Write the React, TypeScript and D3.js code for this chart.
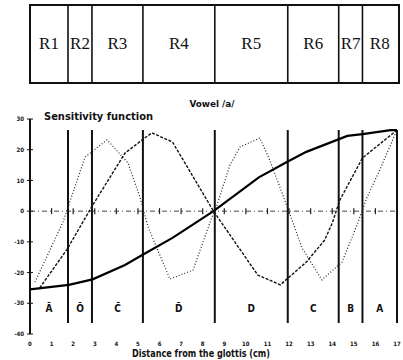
import React from 'react'
import * as d3 from 'd3'

// region boundaries along the tract (cm from the glottis)
const boundaries = [0, 1.76, 2.87, 5.23, 8.56, 11.94, 14.3, 15.4, 17]
const regionNames = ['R1', 'R2', 'R3', 'R4', 'R5', 'R6', 'R7', 'R8']
const modeLetters = ['A\u0304', 'O\u0304', 'C\u0304', 'D\u0304', 'D', 'C', 'B', 'A']

const xTicks = d3.range(0, 18)
const yTicks = [30, 20, 10, 0, -10, -20, -30, -40]

// sensitivity functions, [cm, value]
const solidCurve: [number, number][] = [
  [0, -25.5], [1.8, -24], [2.9, -22.2], [4.4, -17.5], [5.2, -14.3], [6.6, -8.7],
  [8.5, 0], [10.6, 11], [11.9, 16], [12.8, 19.3], [14.7, 24.5], [15.4, 25.1],
  [16.7, 26.4], [17, 26.4],
]
const dashedCurve: [number, number][] = [
  [0.45, -25], [1.7, -12.6], [2.9, 1.9], [4.4, 18.9], [5.2, 23.2], [5.65, 25.5],
  [6.6, 22.5], [8.5, 0], [10.55, -20.8], [11.6, -24], [11.9, -22.1], [12.8, -16.6],
  [13.65, -9.4], [14, -3.9], [14.35, 3.6], [15.4, 17.3], [17, 26.4],
]
const dottedCurve: [number, number][] = [
  [0.23, -23.1], [1.53, -3.5], [2.55, 17.6], [3.57, 23.2], [4.54, 15.7], [5.09, 4.6],
  [5.47, -5.2], [6.48, -22.1], [7.55, -19.2], [8.43, -1.9], [8.57, 0], [9.26, 15],
  [9.73, 20.9], [10.65, 23.8], [11.1, 16.7], [11.8, 3.6], [12.27, -5.5], [12.6, -12],
  [13.52, -22.4], [14.03, -19.2], [14.45, -16.6], [15.15, -4.5], [15.6, 4.3],
  [16.2, 13.4], [17, 26.4],
]

const W = 403
const H = 360
const condensed = '"DejaVu Sans Condensed", "DejaVu Sans", sans-serif'

export default function App() {
  const x = d3.scaleLinear().domain([0, 17]).range([30, 397])
  const y = d3.scaleLinear().domain([-40, 30]).range([334, 119])
  const path = d3.line<[number, number]>().x(d => x(d[0])).y(d => y(d[1]))

  const boxTop = 5
  const boxBottom = 83

  return (
    <svg width={W} height={H} style={{ position: 'absolute', left: 0, top: 0, background: '#fff' }}>
      {/* region boxes on top */}
      <rect x={x(0)} y={boxTop} width={x(17) - x(0) + 2} height={boxBottom - boxTop}
        fill="none" stroke="#111" strokeWidth={2} />
      {boundaries.slice(1, -1).map((b, i) => (
        <line key={i} x1={x(b)} x2={x(b)} y1={boxTop} y2={boxBottom} stroke="#111" strokeWidth={1.6} />
      ))}
      {regionNames.map((r, i) => (
        <text key={r} x={(x(boundaries[i]) + x(boundaries[i + 1])) / 2} y={49}
          textAnchor="middle" fontFamily='"Liberation Serif", serif' fontSize={17} fill="#111">{r}</text>
      ))}

      {/* titles */}
      <text x={212} y={107} textAnchor="middle" fontFamily={condensed} fontWeight="bold" fontSize={8}
        textLength={45} lengthAdjust="spacingAndGlyphs" fill="#111">Vowel /a/</text>
      <text x={44} y={120} fontFamily={condensed} fontWeight="bold" fontSize={10}
        textLength={109} lengthAdjust="spacingAndGlyphs" fill="#111">Sensitivity function</text>

      {/* y axis */}
      <line x1={x(0)} x2={x(0)} y1={y(30)} y2={y(-40)} stroke="#111" strokeWidth={2} />
      {yTicks.map(t => (
        <g key={t}>
          <line x1={x(0) - 3} x2={x(0) + 3} y1={y(t)} y2={y(t)} stroke="#111" strokeWidth={1} />
          <text x={x(0) - 6} y={y(t) + 2.2} textAnchor="end" fontFamily={condensed} fontWeight="bold"
            fontSize={6} fill="#111">{t}</text>
        </g>
      ))}

      {/* x tick labels */}
      {xTicks.map(t => (
        <text key={t} x={x(t)} y={346} textAnchor="middle" fontFamily={condensed} fontWeight="bold"
          fontSize={6} fill="#111">{t}</text>
      ))}
      <text x={201} y={357} textAnchor="middle" fontFamily={condensed} fontWeight="bold" fontSize={10}
        textLength={138} lengthAdjust="spacingAndGlyphs" fill="#111">Distance from the glottis (cm)</text>

      {/* zero line with cm marks */}
      <line x1={x(0)} x2={x(17)} y1={y(0)} y2={y(0)} stroke="#333" strokeWidth={0.9} strokeDasharray="5,3,1,3" />
      {xTicks.slice(1, -1).map(t => (
        <line key={t} x1={x(t)} x2={x(t)} y1={y(0) - 3} y2={y(0) + 3} stroke="#222" strokeWidth={1.2} />
      ))}

      {/* region boundaries */}
      {boundaries.slice(1).map((b, i) => (
        <line key={i} x1={x(b)} x2={x(b)} y1={130} y2={323} stroke="#111" strokeWidth={2} />
      ))}
      {modeLetters.map((m, i) => (
        <text key={i} x={(x(boundaries[i]) + x(boundaries[i + 1])) / 2} y={312} textAnchor="middle"
          fontFamily={condensed} fontWeight="bold" fontSize={10} fill="#111">{m}</text>
      ))}

      {/* curves */}
      <path d={path(dottedCurve) || ''} fill="none" stroke="#222" strokeWidth={1.2} strokeDasharray="1,2" />
      <path d={path(dashedCurve) || ''} fill="none" stroke="#111" strokeWidth={1.4} strokeDasharray="3,1.5" />
      <path d={path(solidCurve) || ''} fill="none" stroke="#000" strokeWidth={2.2} />
    </svg>
  )
}
